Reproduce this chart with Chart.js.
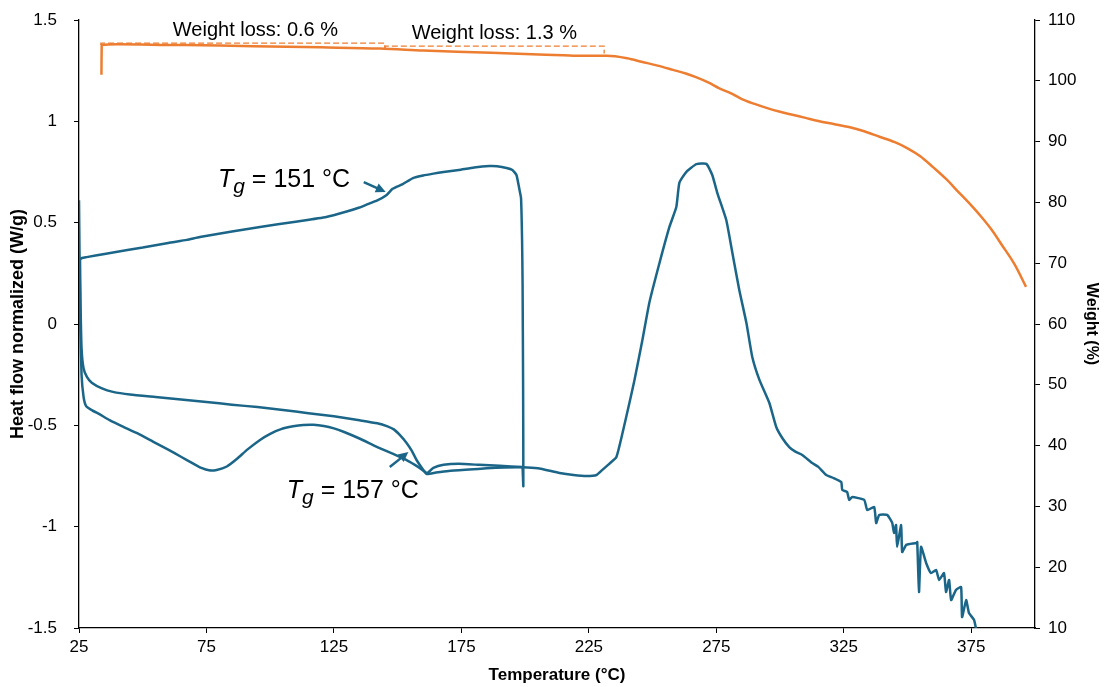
<!DOCTYPE html>
<html>
<head>
<meta charset="utf-8">
<script src="https://cdn.jsdelivr.net/npm/chart.js@4.4.1/dist/chart.umd.min.js"></script>
<style>
    html, body { margin: 0; padding: 0; background: #fff; }
    #wrap { width: 1105px; height: 687px; }
</style>
</head>
<body>
<div id="wrap"><canvas id="dscChart" width="1105" height="687"></canvas></div>
<script>
// DSC: first heating, cooling, second heating (temperature in °C, heat flow in W/g)
const heat1Temp = [25.0, 25.2, 25.5, 26.0, 26.8, 27.8, 30, 33, 37, 42, 48, 54, 60, 65, 70, 73, 76, 79, 83, 87, 91, 96, 100, 104, 109, 113, 117, 121, 125, 129, 135, 142, 148, 154, 158, 161.5, 164, 168, 174, 182, 190, 199.0];
const heat1Flow = [0.61, 0.35, 0.0, -0.25, -0.36, -0.405, -0.425, -0.445, -0.474, -0.505, -0.54, -0.58, -0.62, -0.655, -0.69, -0.71, -0.722, -0.72, -0.703, -0.665, -0.62, -0.572, -0.542, -0.52, -0.505, -0.498, -0.497, -0.503, -0.515, -0.533, -0.565, -0.607, -0.64, -0.675, -0.705, -0.735, -0.71, -0.695, -0.69, -0.695, -0.70, -0.705];

const coolTemp = [199.0, 199.3, 199.2, 199.0, 198.8, 198.4, 197.8, 196.6, 195, 192.7, 189, 186, 180, 174, 168, 164, 160, 156, 152, 148, 145.7, 142, 138, 135, 130, 122, 110, 96, 85, 72.4, 67.3, 60, 50, 44, 35, 28, 26.2, 25.4];
const coolFlow = [-0.705, -0.80, -0.3, 0.2, 0.415, 0.62, 0.661, 0.735, 0.760, 0.770, 0.778, 0.779, 0.772, 0.760, 0.750, 0.742, 0.733, 0.72, 0.69, 0.667, 0.637, 0.61, 0.59, 0.575, 0.555, 0.528, 0.505, 0.479, 0.456, 0.429, 0.415, 0.400, 0.377, 0.365, 0.345, 0.33, 0.326, 0.32];

const heat2Temp = [25.4, 25.6, 26.0, 26.8, 28.1, 30, 34, 38.3, 45, 55, 65, 75, 85, 95, 105, 115, 125, 135, 142, 146, 148.5, 151, 153.5, 155.5, 157.4, 159.5, 161.4, 165, 170, 178, 185, 192, 199, 205, 213.5, 219, 224.1, 228, 230.3, 233, 235.8, 238.2, 240.9, 242.9, 246, 248.7, 252.7, 256.6, 259.3, 260.5, 263.2, 265, 267.2, 271.1, 273.4, 275.4, 278.9, 281.3, 284, 286.8, 289.1, 291.9, 295.8, 298.5, 301, 303.6, 306, 308.7, 312.6, 315, 318.1, 321, 324.0, 324.4, 326.3, 327.1, 328.3, 333, 334.2, 336.9, 337.7, 338.9, 342, 344, 344.7, 345.5, 345.9, 347.5, 347.9, 349.5, 353.4, 353.8, 354.5, 355.3, 357.3, 359.2, 361.2, 362.4, 364.3, 365.1, 366.3, 367.1, 369, 371, 371.4, 373, 374.1, 376.1, 376.9];
const heat2Flow = [0.32, 0.1, -0.12, -0.22, -0.261, -0.29, -0.318, -0.335, -0.348, -0.36, -0.372, -0.385, -0.398, -0.41, -0.424, -0.44, -0.455, -0.475, -0.49, -0.505, -0.52, -0.55, -0.587, -0.625, -0.671, -0.71, -0.74, -0.733, -0.725, -0.718, -0.712, -0.708, -0.707, -0.712, -0.735, -0.745, -0.75, -0.745, -0.72, -0.69, -0.656, -0.538, -0.39, -0.276, -0.079, 0.104, 0.301, 0.479, 0.577, 0.696, 0.75, 0.77, 0.789, 0.79, 0.735, 0.646, 0.513, 0.35, 0.168, 0.005, -0.163, -0.276, -0.39, -0.508, -0.565, -0.607, -0.63, -0.646, -0.686, -0.705, -0.745, -0.76, -0.78, -0.819, -0.829, -0.868, -0.854, -0.868, -0.918, -0.903, -0.982, -0.942, -0.942, -0.982, -1.031, -0.992, -1.100, -0.992, -1.125, -1.090, -1.081, -1.076, -1.322, -1.100, -1.179, -1.229, -1.214, -1.263, -1.229, -1.322, -1.263, -1.362, -1.312, -1.298, -1.446, -1.362, -1.426, -1.46, -1.505];

// TGA (temperature in °C, weight in %)
const tgaTemp = [33.8, 33.9, 40, 60, 80, 100, 120, 143, 160, 180, 200, 215, 222, 232, 240, 246, 252, 258, 263, 267, 272, 276, 281, 285, 290, 295, 300, 304, 310, 315, 321, 327, 333, 339, 345, 350, 355, 360, 365, 370, 375, 379, 383, 387, 392, 396.5];
const tgaWeight = [101.0, 105.9, 106.0, 105.9, 105.8, 105.65, 105.5, 105.3, 105.0, 104.7, 104.4, 104.2, 104.1, 104.1, 103.7, 103.1, 102.5, 101.8, 101.2, 100.6, 99.7, 98.8, 97.9, 97.0, 96.2, 95.5, 94.9, 94.5, 93.9, 93.4, 92.9, 92.4, 91.7, 90.8, 89.9, 88.9, 87.6, 85.8, 83.9, 81.7, 79.5, 77.6, 75.5, 73.0, 69.8, 66.1];

// Dashed weight loss brackets
const box1Temp = [33.6, 33.6, 145, 145];
const box1Weight = [105.9, 106.2, 106.2, 105.35];
const box2Temp = [145, 145, 231, 231];
const box2Weight = [105.35, 105.7, 105.7, 104.5];

const xTicks = [25, 75, 125, 175, 225, 275, 325, 375];

const BLUE = '#1b6688';
const ORANGE = '#ed7d31';
const FONT = 'Arial, "Liberation Sans", Helvetica, sans-serif';

function toPoints(xs, ys) {
    return xs.map((x, i) => ({ x: x, y: ys[i] }));
}

Chart.defaults.font.family = FONT;
Chart.defaults.color = '#000';

function dscSet(label, xs, ys) {
    return {
        label: label,
        data: toPoints(xs, ys),
        yAxisID: 'y',
        borderColor: BLUE,
        borderWidth: 2.5,
        pointRadius: 0,
        tension: 0.15,
        fill: false
    };
}

function boxSet(xs, ys) {
    return {
        label: 'box',
        data: toPoints(xs, ys),
        yAxisID: 'y2',
        borderColor: ORANGE,
        borderWidth: 1.3,
        borderDash: [6, 3],
        pointRadius: 0,
        tension: 0,
        fill: false
    };
}

// Text labels placed in data coordinates
function drawTg(ctx, px, py, value) {
    ctx.fillStyle = '#000';
    ctx.textBaseline = 'alphabetic';
    ctx.textAlign = 'left';
    ctx.font = 'italic 25px ' + FONT;
    ctx.fillText('T', px, py);
    let w = ctx.measureText('T').width;
    ctx.font = 'italic 21px ' + FONT;
    ctx.fillText('g', px + w, py + 6);
    w += ctx.measureText('g').width;
    ctx.font = '25px ' + FONT;
    ctx.fillText(' = ' + value + ' °C', px + w, py);
}

function drawArrow(ctx, x1, y1, x2, y2) {
    const ang = Math.atan2(y2 - y1, x2 - x1);
    const head = 11;
    ctx.strokeStyle = BLUE;
    ctx.fillStyle = BLUE;
    ctx.lineWidth = 2.5;
    ctx.beginPath();
    ctx.moveTo(x1, y1);
    ctx.lineTo(x2 - Math.cos(ang) * head * 0.8, y2 - Math.sin(ang) * head * 0.8);
    ctx.stroke();
    ctx.beginPath();
    ctx.moveTo(x2, y2);
    ctx.lineTo(x2 - head * Math.cos(ang - 0.45), y2 - head * Math.sin(ang - 0.45));
    ctx.lineTo(x2 - head * Math.cos(ang + 0.45), y2 - head * Math.sin(ang + 0.45));
    ctx.closePath();
    ctx.fill();
}

const annotations = {
    id: 'annotations',
    afterDatasetsDraw(chart) {
        const { ctx } = chart;
        const x = chart.scales.x, y = chart.scales.y, y2 = chart.scales.y2;
        ctx.save();
        drawTg(ctx, x.getPixelForValue(79.5), y.getPixelForValue(0.676), '151');
        drawArrow(ctx, x.getPixelForValue(136.7), y.getPixelForValue(0.70), x.getPixelForValue(145.3), y.getPixelForValue(0.651));
        drawTg(ctx, x.getPixelForValue(106.5), y.getPixelForValue(-0.859), '157');
        drawArrow(ctx, x.getPixelForValue(146.9), y.getPixelForValue(-0.706), x.getPixelForValue(154.2), y.getPixelForValue(-0.632));

        ctx.fillStyle = '#000';
        ctx.font = '20px ' + FONT;
        ctx.textAlign = 'left';
        ctx.textBaseline = 'alphabetic';
        ctx.fillText('Weight loss: 0.6 %', x.getPixelForValue(61.8), y2.getPixelForValue(107.4));
        ctx.fillText('Weight loss: 1.3 %', x.getPixelForValue(155.5), y2.getPixelForValue(106.85));
        ctx.restore();
    }
};

new Chart(document.getElementById('dscChart'), {
    type: 'line',
    data: {
        datasets: [
            {
                label: 'Weight',
                data: toPoints(tgaTemp, tgaWeight),
                yAxisID: 'y2',
                borderColor: ORANGE,
                borderWidth: 2.5,
                pointRadius: 0,
                cubicInterpolationMode: 'monotone',
                fill: false
            },
            boxSet(box1Temp, box1Weight),
            boxSet(box2Temp, box2Weight),
            dscSet('Heating 1', heat1Temp, heat1Flow),
            dscSet('Cooling', coolTemp, coolFlow),
            dscSet('Heating 2', heat2Temp, heat2Flow)
        ]
    },
    options: {
        responsive: false,
        animation: false,
        devicePixelRatio: 1,
        layout: { padding: { top: 20, left: 0, right: 0, bottom: 0 } },
        plugins: {
            legend: { display: false },
            tooltip: { enabled: false }
        },
        scales: {
            x: {
                type: 'linear',
                min: 25,
                max: 400,
                afterBuildTicks: axis => { axis.ticks = xTicks.map(v => ({ value: v })); },
                afterFit: scale => { scale.height = 59; },
                grid: { drawOnChartArea: false, drawTicks: true, tickLength: 5, color: '#000' },
                border: { display: true, color: '#000', width: 1.3 },
                ticks: { font: { size: 17 }, color: '#000', padding: 4, maxRotation: 0, autoSkip: false },
                title: {
                    display: true,
                    text: 'Temperature (°C)',
                    font: { size: 17, weight: 'bold' },
                    color: '#000',
                    padding: { top: 0, bottom: 1 }
                }
            },
            y: {
                position: 'left',
                min: -1.5,
                max: 1.5,
                afterFit: scale => {
                    scale.width = 79;
                    scale.paddingTop = 10;
                    scale.paddingBottom = 10;
                },
                grid: { drawOnChartArea: false, drawTicks: true, tickLength: 5, color: '#000' },
                border: { display: true, color: '#000', width: 1.3 },
                ticks: { stepSize: 0.5, font: { size: 17 }, color: '#000', padding: 17, callback: v => String(v) },
                title: {
                    display: true,
                    text: 'Heat flow normalized (W/g)',
                    font: { size: 18, weight: 'bold' },
                    color: '#000',
                    padding: { top: 7, bottom: 0 }
                }
            },
            y2: {
                position: 'right',
                min: 10,
                max: 110,
                afterFit: scale => {
                    scale.width = 70;
                    scale.paddingTop = 10;
                    scale.paddingBottom = 10;
                },
                grid: { drawOnChartArea: false, drawTicks: true, tickLength: 5, color: '#000' },
                border: { display: true, color: '#000', width: 1.3 },
                ticks: { stepSize: 10, font: { size: 17 }, color: '#000', padding: 8 },
                title: {
                    display: true,
                    text: 'Weight (%)',
                    font: { size: 16, weight: 'bold' },
                    color: '#000',
                    padding: { top: 4, bottom: 0 }
                }
            }
        }
    },
    plugins: [annotations]
});
</script>
</body>
</html>
